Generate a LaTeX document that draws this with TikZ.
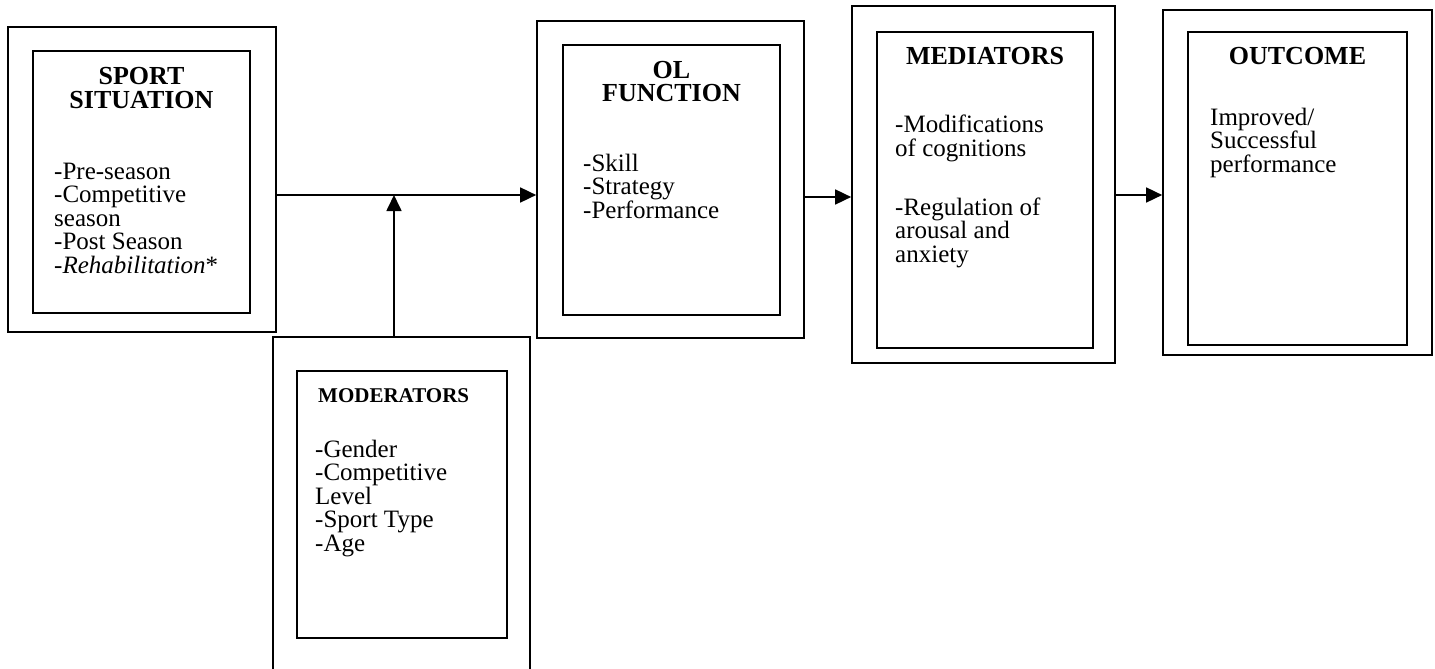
\documentclass[tikz,border=0pt]{standalone}
\usepackage{fontspec}
\setmainfont{Liberation Serif}
\usetikzlibrary{arrows.meta}
\begin{document}
\begin{tikzpicture}[x=1pt, y=-1pt, >={Triangle[length=16pt, width=15pt]}]
    \tikzset{
        frame/.style={draw, line width=1.7pt, inner sep=0pt},
        head/.style={anchor=base, inner sep=0pt, align=center, font=\fontsize{26}{24}\selectfont\bfseries},
        items/.style={anchor=base west, inner sep=0pt, align=left, font=\fontsize{25}{23.4}\selectfont},
        link/.style={->, line width=1.7pt}
    }
    \useasboundingbox (0,0) rectangle (1435,669);

        % boxes, outer and inner
        \node[frame, minimum width=268, minimum height=305] (sitOut) at (142,179.5) {};
        \node[frame, minimum width=217, minimum height=262] (sitIn) at (141.5,182) {};
        \node[frame, minimum width=257, minimum height=353] (modOut) at (401.5,513.5) {};
        \node[frame, minimum width=210, minimum height=267] (modIn) at (402,504.5) {};
        \node[frame, minimum width=267, minimum height=317] (olOut) at (670.5,179.5) {};
        \node[frame, minimum width=217, minimum height=270] (olIn) at (671.5,180) {};
        \node[frame, minimum width=263, minimum height=357] (medOut) at (983.5,184.5) {};
        \node[frame, minimum width=216, minimum height=316] (medIn) at (985,190) {};
        \node[frame, minimum width=269, minimum height=345] (outOut) at (1297.5,182.5) {};
        \node[frame, minimum width=219, minimum height=313] (outIn) at (1297.5,188.5) {};

        % texts (placed by the baseline of their last line)
        \node[head] (sitHead) at (141.5,108) {SPORT\\SITUATION};
        \node[items] (sitList) at (54,273) {-Pre-season\\-Competitive\\season\\-Post Season\\\textit{-Rehabilitation}*};
        \node[head, anchor=base west, font=\fontsize{21}{24}\selectfont\bfseries] (modHead) at (318,402) {MODERATORS};
        \node[items] (modList) at (315,551) {-Gender\\-Competitive\\Level\\-Sport Type\\-Age};
        \node[head] (olHead) at (671.5,102) {OL\\FUNCTION};
        \node[items] (olList) at (583,218) {-Skill\\-Strategy\\-Performance};
        \node[head] (medHead) at (985,65) {MEDIATORS};
        \node[items] (medListA) at (895,156) {-Modifications\\of cognitions};
        \node[items] (medListB) at (895,262) {-Regulation of\\arousal and\\anxiety};
        \node[head] (outHead) at (1297.5,65) {OUTCOME};
        \node[items] (outText) at (1210,172) {Improved/\\Successful\\performance};

        % connectors
        \coordinate (join) at (394,195);
        \coordinate (rowB) at (0,197);
        \coordinate (rowC) at (0,195);
        \draw[link] (sitOut.east |- join) -- (olOut.west |- join);
        \draw[link] (modOut.north -| join) -- (join);
        \draw[link] (olOut.east |- rowB) -- (medOut.west |- rowB);
        \draw[link] (medOut.east |- rowC) -- (outOut.west |- rowC);

    \end{tikzpicture}
\end{document}
